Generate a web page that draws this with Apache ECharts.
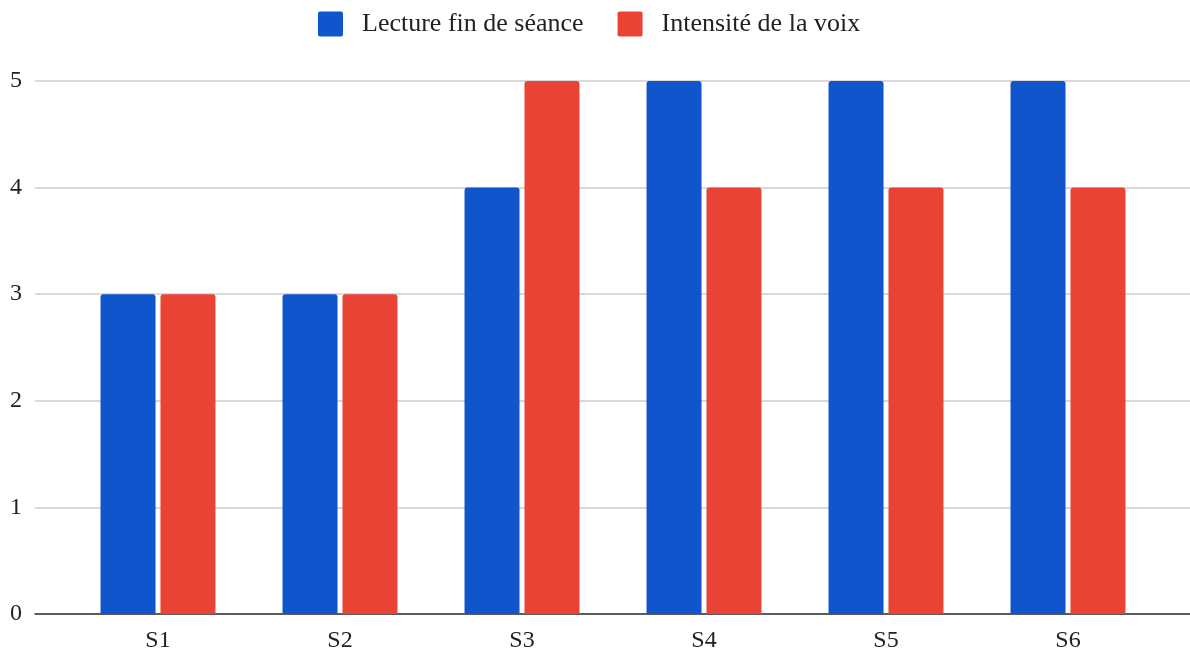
<!DOCTYPE html>
<html>
<head>
<meta charset="utf-8">
<script src="https://cdn.jsdelivr.net/npm/echarts@6/dist/echarts.min.js"></script>
<style>
  html, body { margin: 0; padding: 0; background: #fff; }
  #chart { width: 1190px; height: 657px; }
</style>
</head>
<body>
<div id="chart"></div>
<script>
// Session labels and scores
const sessions = ['S1', 'S2', 'S3', 'S4', 'S5', 'S6'];
const lectureFinSeance = [3, 3, 4, 5, 5, 5];
const intensiteVoix = [3, 3, 5, 4, 4, 4];
const seriesNames = ['Lecture fin de séance', 'Intensité de la voix'];
const yTicks = [0, 1, 2, 3, 4, 5];

const FONT = '"Liberation Serif", "Times New Roman", serif';
const BLUE = '#1155cc';
const RED = '#e84335';
// square legend swatch with slightly rounded corners
const SWATCH = 'path://M2,0 H23 Q25,0 25,2 V23 Q25,25 23,25 H2 Q0,25 0,23 V2 Q0,0 2,0 Z';

const chart = echarts.init(document.getElementById('chart'), null, { renderer: 'canvas' });

const yMin = yTicks[0];
const yMax = yTicks[yTicks.length - 1];

chart.setOption({
  animation: false,
  backgroundColor: '#ffffff',
  legend: {
    top: 11,
    left: 318,
    padding: 0,
    itemWidth: 25,
    itemHeight: 25,
    itemGap: 34,
    icon: SWATCH,
    textStyle: { fontFamily: FONT, fontSize: 26, color: '#222', padding: [0, 0, 0, 14] },
    data: seriesNames
  },
  grid: [
    // full-width grid carrying the value axis and its gridlines
    { left: 35, right: 0, top: 81, bottom: 43 },
    // inner grid where the category bands sit
    { left: 67, right: 31, top: 81, bottom: 43 }
  ],
  xAxis: [
    {
      gridIndex: 0, type: 'category', data: [''],
      axisLine: { show: true, lineStyle: { color: '#333', width: 1.5 } },
      axisTick: { show: false }, axisLabel: { show: false }
    },
    {
      gridIndex: 1, type: 'category', data: sessions,
      axisLine: { show: false }, axisTick: { show: false },
      axisLabel: { fontFamily: FONT, fontSize: 24, color: '#222', margin: 15 }
    }
  ],
  yAxis: [
    {
      gridIndex: 0, type: 'value', min: yMin, max: yMax, interval: 1,
      axisLine: { show: false }, axisTick: { show: false },
      axisLabel: { fontFamily: FONT, fontSize: 24, color: '#222', margin: 13 },
      splitLine: { lineStyle: { color: '#cccccc', width: 1.5 } }
    },
    {
      gridIndex: 1, type: 'value', min: yMin, max: yMax, interval: 1,
      axisLine: { show: false }, axisTick: { show: false },
      axisLabel: { show: false }, splitLine: { show: false }
    }
  ],
  series: [
    {
      name: seriesNames[0], type: 'bar', xAxisIndex: 1, yAxisIndex: 1,
      data: lectureFinSeance,
      barWidth: 55, barGap: '9%',
      itemStyle: { color: BLUE, borderRadius: [3, 3, 0, 0] }
    },
    {
      name: seriesNames[1], type: 'bar', xAxisIndex: 1, yAxisIndex: 1,
      data: intensiteVoix,
      barWidth: 55, barGap: '9%',
      itemStyle: { color: RED, borderRadius: [3, 3, 0, 0] }
    }
  ]
});
</script>
</body>
</html>
